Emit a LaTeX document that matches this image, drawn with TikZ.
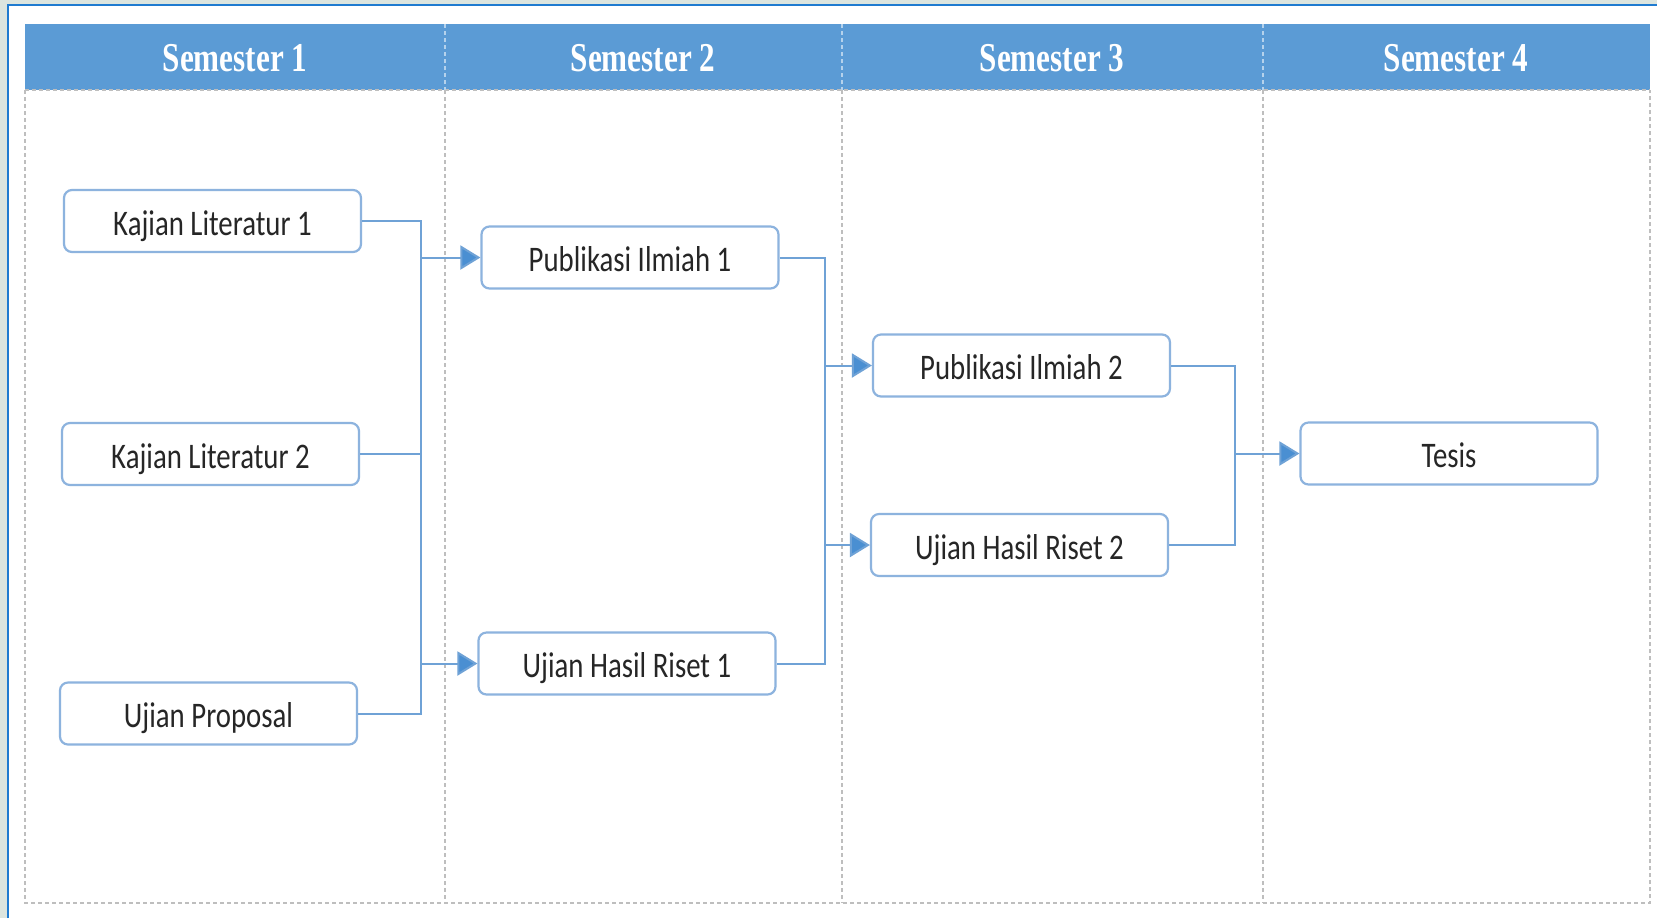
\documentclass[tikz,border=0pt]{standalone}
\usepackage{fontspec}
\usetikzlibrary{arrows.meta}
\newfontfamily\boxfont[FakeStretch=0.8]{Carlito}
\newfontfamily\headfont[FakeStretch=0.76]{Liberation Serif}
\definecolor{hblue}{HTML}{5B9BD5}
\definecolor{cblue}{HTML}{6FA2D6}
\definecolor{bblue}{HTML}{8DB3DE}
\definecolor{tipblue}{HTML}{4A8FD2}
\definecolor{frameblue}{HTML}{1F7BD0}
\definecolor{outgray}{HTML}{DCE5DF}
\definecolor{dashgray}{HTML}{BEBEBE}
\tikzset{
  stagebox/.style={draw=bblue, line width=1.1pt, rounded corners=4pt, fill=white,
    minimum width=148.5pt, minimum height=31pt, inner sep=0pt,
    text height=16pt, text depth=2pt,
    font=\boxfont\fontsize{18}{20}\selectfont, text={black!85}},
  headtext/.style={font=\headfont\bfseries\fontsize{20.5}{24}\selectfont, text={white}},
  conn/.style={draw=cblue, line width=1pt},
  arr/.style={conn, -{Triangle[length=10pt,width=12pt,fill=tipblue]}},
  gdash/.style={draw=dashgray, line width=0.6pt, dash pattern=on 2pt off 1.5pt},
  hdash/.style={draw={white!55!hblue}, line width=0.6pt, dash pattern=on 2pt off 1.5pt}
}
\begin{document}
\begin{tikzpicture}[x=0.5pt,y=-0.5pt]
\useasboundingbox (0,0) rectangle (1657,918);
% outer background
\fill[outgray] (0,0) rectangle (1657,918);
\fill[white] (8,5) rectangle (1657,918);
\draw[frameblue, line width=1pt] (8,918) -- (8,5) -- (1657,5);
% header band
\fill[hblue] (25,24) rectangle (1650,90);
% dashed frame and dividers
\draw[gdash] (25,90) -- (25,903) -- (1650,903) -- (1650,90);
\draw[gdash] (25,90) -- (1650,90);
\foreach \xx in {445,842,1263}{
  \draw[gdash] (\xx,90) -- (\xx,903);
  \draw[hdash] (\xx,24) -- (\xx,90);
}
% headers
\node[headtext] (h1) at (235,58) {Semester 1};
\node[headtext] (h2) at (643,58) {Semester 2};
\node[headtext] (h3) at (1052,58) {Semester 3};
\node[headtext] (h4) at (1456,58) {Semester 4};
% boxes
\node[stagebox] (kl1) at (212.5,221) {Kajian Literatur 1};
\node[stagebox] (kl2) at (210.5,454) {Kajian Literatur 2};
\node[stagebox] (up) at (208.5,713.5) {Ujian Proposal};
\node[stagebox] (pub1) at (630,257.5) {Publikasi Ilmiah 1};
\node[stagebox] (uhr1) at (627,663.5) {Ujian Hasil Riset 1};
\node[stagebox] (pub2) at (1021.5,365.5) {Publikasi Ilmiah 2};
\node[stagebox] (uhr2) at (1019.5,545) {Ujian Hasil Riset 2};
\node[stagebox] (tesis) at (1449,453.5) {Tesis};
% junction columns
\coordinate (ja) at (421,0);
\coordinate (jb) at (825,0);
\coordinate (jc) at (1235,0);
% connectors semester 1 -> 2
\draw[conn] (kl1.east) -| (ja |- up.east) -- (up.east);
\draw[conn] (kl2.east) -- (ja |- kl2.east);
\draw[arr] (ja |- pub1.west) -- (pub1.west);
\draw[arr] (ja |- uhr1.west) -- (uhr1.west);
% semester 2 -> 3
\draw[conn] (pub1.east) -| (jb |- uhr1.east) -- (uhr1.east);
\draw[arr] (jb |- pub2.west) -- (pub2.west);
\draw[arr] (jb |- uhr2.west) -- (uhr2.west);
% semester 3 -> 4
\draw[conn] (pub2.east) -| (jc |- uhr2.east) -- (uhr2.east);
\draw[arr] (jc |- tesis.west) -- (tesis.west);
\end{tikzpicture}
\end{document}
